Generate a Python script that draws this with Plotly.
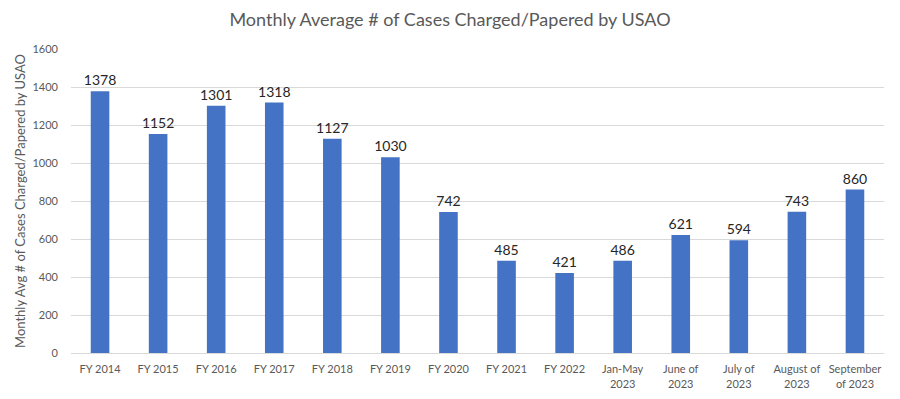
import plotly.graph_objects as go

categories = ["FY 2014", "FY 2015", "FY 2016", "FY 2017", "FY 2018", "FY 2019", "FY 2020",
              "FY 2021", "FY 2022", "Jan-May<br>2023", "June of<br>2023", "July of<br>2023",
              "August of<br>2023", "September<br>of 2023"]
values = [1378, 1152, 1301, 1318, 1127, 1030, 742, 485, 421, 486, 621, 594, 743, 860]
y_ticks = [0, 200, 400, 600, 800, 1000, 1200, 1400, 1600]

FONT = "Lato, 'Open Sans', Arial, sans-serif"

fig = go.Figure(go.Bar(
    x=categories, y=values,
    marker=dict(color="#4472C4", line=dict(width=0)),
    text=[str(v) for v in values], textposition="outside",
    textfont=dict(size=14, color="#262626", family=FONT),
    constraintext="none",
    cliponaxis=False,
))

# page body has an 8px margin, so the figure is sized/positioned to compensate
fig.update_layout(
    width=892, height=391,
    margin=dict(l=63, r=16, t=41, b=46),
    paper_bgcolor="white", plot_bgcolor="white",
    bargap=0.68,
    font=dict(family=FONT, color="#595959"),
    title=dict(text="Monthly Average # of Cases Charged/Papered by USAO",
               x=442 / 892, xanchor="center", xref="container", y=1 - 12 / 391, yanchor="middle",
               font=dict(size=18, color="#595959", family=FONT)),
    showlegend=False,
)
fig.update_xaxes(showgrid=False, showline=True, linecolor="#D9D9D9", linewidth=1,
                 ticks="", tickfont=dict(size=11, color="#595959"), tickangle=0,
                 ticklabelstandoff=6, automargin=False)
fig.update_yaxes(range=[0, 1600], tickvals=y_ticks, showgrid=True, gridcolor="#D9D9D9",
                 gridwidth=1, zeroline=False, showline=False, ticks="",
                 tickfont=dict(size=11, color="#595959"), ticklabelstandoff=12,
                 title=dict(text="Monthly Avg # of Cases Charged/Papered by USAO",
                            font=dict(size=13, color="#595959"), standoff=3),
                 automargin=False)

fig.write_html("out.html")
